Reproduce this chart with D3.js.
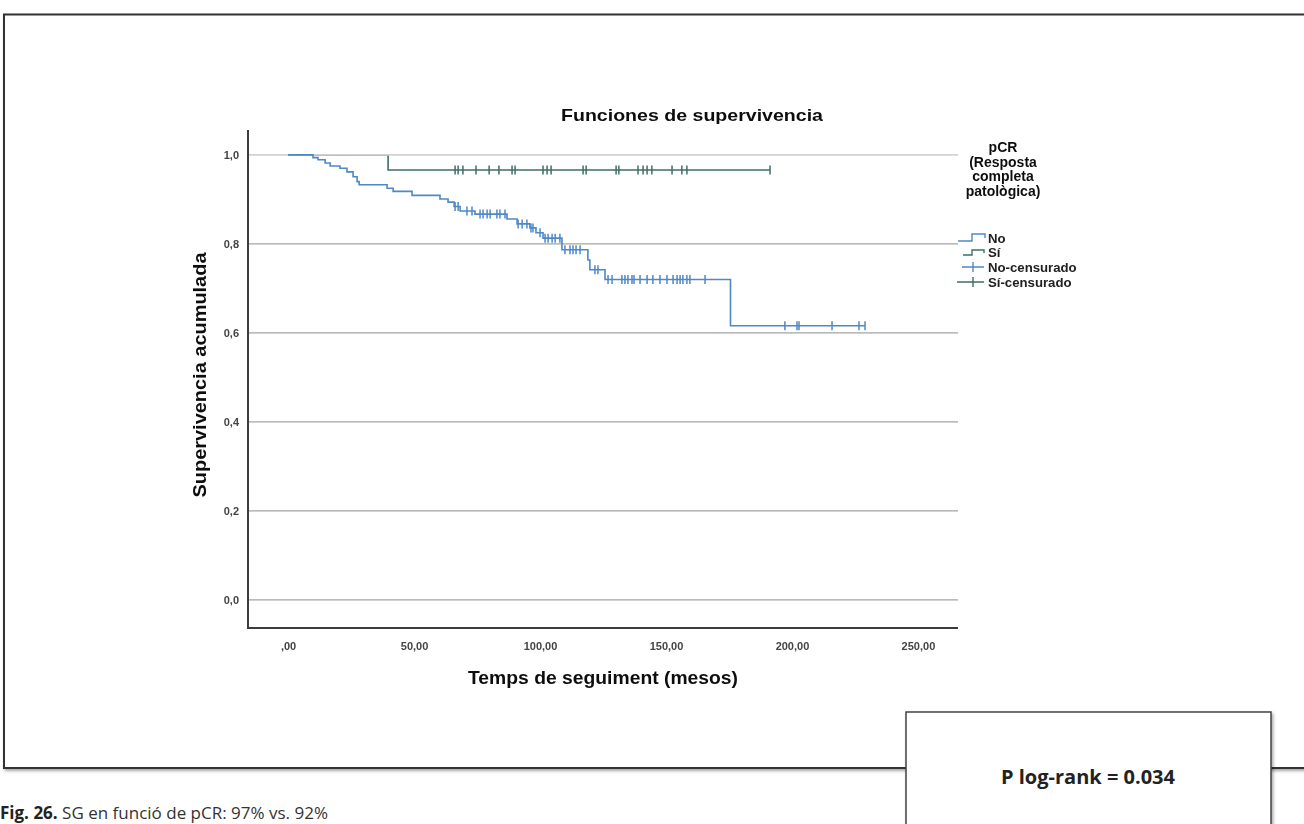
<!DOCTYPE html>
<html>
<head>
<meta charset="utf-8">
<script src="https://cdn.jsdelivr.net/npm/d3@7/dist/d3.min.js"></script>
<style>
  html, body { margin: 0; padding: 0; background: #fff; }
  svg { display: block; }
</style>
</head>
<body>
<svg id="fig" width="1304" height="824"></svg>
<script>
// Axis ticks
const xTicks = [0, 50, 100, 150, 200, 250];
const xTickLabels = [",00", "50,00", "100,00", "150,00", "200,00", "250,00"];
const yTicks = [0, 0.2, 0.4, 0.6, 0.8, 1.0];
const yTickLabels = ["0,0", "0,2", "0,4", "0,6", "0,8", "1,0"];

// Kaplan-Meier estimate, pCR = No (event times in months, survival after each event)
const noEventTimes = [9.9, 11.9, 14.7, 16.7, 20.6, 23.4, 25.8, 27.4, 28.2, 39.3, 41.7, 49.2,
  60.3, 63.5, 65.9, 68.3, 74.2, 86.9, 90.9, 96.0, 98.4, 101.2, 108.7, 119.0, 119.8, 125.8, 175.6];
const noSurvival = [0.994, 0.989, 0.982, 0.975, 0.970, 0.962, 0.951, 0.940, 0.933, 0.925, 0.918, 0.909,
  0.901, 0.894, 0.884, 0.874, 0.867, 0.856, 0.845, 0.836, 0.825, 0.813, 0.787, 0.764, 0.742, 0.720, 0.616];
const noCensorTimes = [66.3, 67.5, 71.0, 73.0, 76.2, 77.4, 79.0, 80.2, 82.9, 84.1, 86.1, 91.3, 92.9,
  94.8, 96.4, 97.2, 100.0, 102.0, 103.2, 104.8, 106.0, 107.9, 109.9, 111.9, 113.1, 114.3, 115.9,
  121.8, 123.0, 127.0, 128.6, 132.5, 133.7, 134.9, 136.5, 137.3, 139.7, 142.5, 144.8, 147.6,
  150.4, 152.8, 154.4, 155.6, 156.7, 158.3, 159.5, 165.5, 197.2, 202.0, 202.8, 215.9, 226.6, 229.0];
const noLastTime = 229.0;

// Kaplan-Meier estimate, pCR = Sí
const siEventTimes = [39.7];
const siSurvival = [0.966];
const siCensorTimes = [66.3, 67.5, 69.4, 74.6, 79.8, 83.7, 88.9, 90.1, 101.2, 102.8, 104.4, 117.1,
  118.3, 130.2, 131.3, 138.9, 140.9, 142.5, 144.4, 152.4, 156.3, 158.3, 191.3];
const siLastTime = 191.3;

const legendTitle = ["pCR", "(Resposta", "completa", "patològica)"];
const legendItems = ["No", "Sí", "No-censurado", "Sí-censurado"];

const colNo = "#4f88c6";
const colSi = "#3f6e68";
const axisCol = "#3a3a3a";
const font = "'Liberation Sans', Arial, sans-serif";

const svg = d3.select("#fig");
const defs = svg.append("defs");

const shadow = defs.append("filter").attr("id", "shadow")
  .attr("x", "-5%").attr("y", "-5%").attr("width", "110%").attr("height", "110%");
shadow.append("feDropShadow").attr("dx", 1.5).attr("dy", 2).attr("stdDeviation", 1.6)
  .attr("flood-color", "#000").attr("flood-opacity", 0.35);

const soft = defs.append("filter").attr("id", "soft");
soft.append("feGaussianBlur").attr("stdDeviation", 0.45);

// Outer frame
svg.append("rect")
  .attr("x", 4).attr("y", 14.5).attr("width", 1320).attr("height", 753.5)
  .attr("fill", "#fff").attr("stroke", "#333").attr("stroke-width", 2)
  .attr("filter", "url(#shadow)");

// Scales: plotting frame runs a little beyond the 0-250 / 0-1 ranges
const x = d3.scaleLinear().domain([-15.9, 265.9]).range([248, 958]);
const y = d3.scaleLinear().domain([-0.063, 1.056]).range([628, 130]);

const chart = svg.append("g").attr("filter", "url(#soft)");

function kmPoints(times, surv, lastTime) {
  const pts = [[0, 1]];
  times.forEach((t, i) => pts.push([t, surv[i]]));
  pts.push([lastTime, surv[surv.length - 1]]);
  return pts;
}
function survAt(times, surv, t) {
  let s = 1;
  times.forEach((et, i) => { if (et <= t) s = surv[i]; });
  return s;
}
const stepLine = d3.line().x(d => x(d[0])).y(d => y(d[1])).curve(d3.curveStepAfter);

// Sí curve (drawn beneath the reference lines)
chart.append("path")
  .attr("d", stepLine(kmPoints(siEventTimes, siSurvival, siLastTime)))
  .attr("fill", "none").attr("stroke", colSi).attr("stroke-width", 1.6);

// Horizontal reference lines
chart.append("g").selectAll("line").data(yTicks).join("line")
  .attr("x1", x.range()[0]).attr("x2", x.range()[1])
  .attr("y1", d => y(d)).attr("y2", d => y(d))
  .attr("stroke", d => d === 1 ? "#d2d2d2" : "#a3a3a3")
  .attr("stroke-width", d => d === 1 ? 1.6 : 1.3);

// No curve
chart.append("path")
  .attr("d", stepLine(kmPoints(noEventTimes, noSurvival, noLastTime)))
  .attr("fill", "none").attr("stroke", colNo).attr("stroke-width", 1.6);

// Censoring marks
function censorMarks(times, evT, surv, col) {
  chart.append("g").selectAll("line").data(times).join("line")
    .attr("x1", d => x(d)).attr("x2", d => x(d))
    .attr("y1", d => y(survAt(evT, surv, d)) - 4.5)
    .attr("y2", d => y(survAt(evT, surv, d)) + 4.5)
    .attr("stroke", col).attr("stroke-width", 1.5);
}
censorMarks(noCensorTimes, noEventTimes, noSurvival, colNo);
censorMarks(siCensorTimes, siEventTimes, siSurvival, colSi);

// Axes
const xAxis = d3.axisBottom(x).tickValues(xTicks)
  .tickFormat((d, i) => xTickLabels[i]).tickSize(0).tickPadding(14);
const gx = chart.append("g").attr("transform", `translate(0,${y.range()[0]})`).call(xAxis);
gx.select(".domain").remove();
gx.selectAll("text").attr("font-family", font).attr("font-size", 11)
  .attr("font-weight", "bold").attr("fill", "#444");

const yAxis = d3.axisLeft(y).tickValues(yTicks)
  .tickFormat((d, i) => yTickLabels[i]).tickSize(0).tickPadding(9);
const gy = chart.append("g").attr("transform", `translate(${x.range()[0]},0)`).call(yAxis);
gy.select(".domain").remove();
gy.selectAll("text").attr("font-family", font).attr("font-size", 11)
  .attr("font-weight", "bold").attr("fill", "#444");

chart.append("path")
  .attr("d", `M${x.range()[0]},${y.range()[1]}V${y.range()[0]}H${x.range()[1]}`)
  .attr("fill", "none").attr("stroke", axisCol).attr("stroke-width", 2);

// Titles
chart.append("text").attr("x", 692).attr("y", 121).attr("text-anchor", "middle")
  .attr("font-family", font).attr("font-weight", "bold").attr("font-size", 17)
  .attr("textLength", 262).attr("lengthAdjust", "spacingAndGlyphs")
  .attr("fill", "#111").text("Funciones de supervivencia");

chart.append("text").attr("x", 603).attr("y", 684).attr("text-anchor", "middle")
  .attr("font-family", font).attr("font-weight", "bold").attr("font-size", 18)
  .attr("textLength", 270).attr("lengthAdjust", "spacingAndGlyphs")
  .attr("fill", "#111").text("Temps de seguiment (mesos)");

chart.append("text").attr("transform", "translate(206,375) rotate(-90)")
  .attr("text-anchor", "middle").attr("font-family", font).attr("font-weight", "bold")
  .attr("font-size", 17.5).attr("textLength", 245).attr("lengthAdjust", "spacingAndGlyphs")
  .attr("fill", "#111").text("Supervivencia acumulada");

// Legend
const lg = chart.append("g");
lg.selectAll("text.lt").data(legendTitle).join("text").attr("class", "lt")
  .attr("x", 1003).attr("y", (d, i) => 152 + i * 14.5).attr("text-anchor", "middle")
  .attr("font-family", font).attr("font-weight", "bold").attr("font-size", 14)
  .attr("fill", "#111").text(d => d);

const rowY = [238, 252, 267, 282];
const symbols = [
  { d: r => `M958,${r + 3}H972V${r - 4}H985V${r}`, c: colNo },
  { d: r => `M963,${r + 3}H972V${r - 2}H984V${r + 1}`, c: colSi },
  { d: r => `M962,${r}H984M973,${r - 5}V${r + 5}`, c: colNo },
  { d: r => `M957,${r}H984M973,${r - 5}V${r + 5}`, c: colSi }
];
lg.selectAll("path").data(symbols).join("path")
  .attr("d", (s, i) => s.d(rowY[i])).attr("fill", "none")
  .attr("stroke", s => s.c).attr("stroke-width", 1.4);
lg.selectAll("text.li").data(legendItems).join("text").attr("class", "li")
  .attr("x", 988).attr("y", (d, i) => rowY[i] + 4.5)
  .attr("font-family", font).attr("font-weight", "bold").attr("font-size", 13.2)
  .attr("fill", "#222").text(d => d);

// Log-rank box
svg.append("rect").attr("x", 906).attr("y", 712).attr("width", 365).attr("height", 140)
  .attr("fill", "#fff").attr("stroke", "#444").attr("stroke-width", 1.5)
  .attr("filter", "url(#shadow)");
svg.append("text").attr("x", 1088).attr("y", 784).attr("text-anchor", "middle")
  .attr("font-family", "'Open Sans', sans-serif").attr("font-weight", "bold")
  .attr("font-size", 20).attr("fill", "#222").text("P log-rank = 0.034");

// Caption
const cap = svg.append("text").attr("x", 0).attr("y", 819)
  .attr("font-family", "'Open Sans', sans-serif").attr("font-size", 17).attr("fill", "#333");
cap.append("tspan").attr("font-weight", "bold").attr("fill", "#222").text("Fig. 26.");
cap.append("tspan").text(" SG en funció de pCR: 97% vs. 92%");
</script>
</body>
</html>
